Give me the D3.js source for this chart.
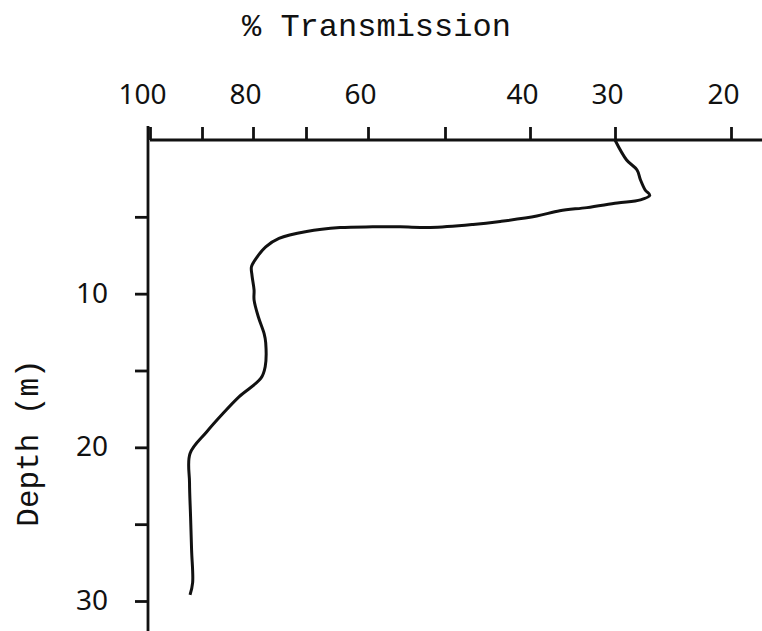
<!DOCTYPE html>
<html>
<head>
<meta charset="utf-8">
<script src="https://cdn.jsdelivr.net/npm/d3@7"></script>
<style>
  html, body { margin: 0; padding: 0; background: #fff; }
  svg { display: block; }
</style>
</head>
<body>
<svg id="chart" width="762" height="631"></svg>
<script>
// depth (m) and % transmission
const depth = [0, 1.3, 1.95, 2.6, 3.25, 3.6, 3.9, 4.1, 4.4, 4.6, 4.95, 5.3, 5.5, 5.7, 5.65, 5.65, 5.7, 5.95, 6.4, 6.95,
    7.6, 8.25, 8.8, 9.75, 10.4, 11.5, 12.6, 13.2, 14.75, 15.5, 16.7, 17.8, 19.0, 20.4, 22.3, 24.5, 26.7, 28.8, 29.6];
const transmission = [30, 29.0, 28.1, 27.8, 27.4, 27.0, 27.8, 29.8, 33.3, 36.5, 39.2, 43.5, 46.7, 51.9, 55.8, 59.4, 64.5, 69.9, 75.1, 77.6,
    79.2, 80.3, 80.2, 79.8, 79.8, 79.0, 77.9, 77.6, 77.7, 78.5, 82.7, 85.9, 89.1, 92.3, 92.4, 92.2, 92.0, 91.8, 92.3];

const xTicks = [100, 90, 80, 70, 60, 50, 40, 30, 20];
const xLabels = [100, 80, 60, 40, 30, 20];
const yTicks = [5, 10, 15, 20, 25, 30];
const yLabels = [10, 20, 30];

const svg = d3.select('#chart');
const W = 762, H = 631;

// hand-drawn axis: spacing between ticks is not uniform
const x = d3.scaleLinear()
    .domain(xTicks)
    .range([150, 202, 253, 306, 368, 445, 530, 615, 731]);

const y = d3.scaleLinear()
    .domain([0, 30])
    .range([140, 601]);

const numFont = '"Noto Sans", sans-serif';
const monoFont = '"Liberation Mono", "DejaVu Sans Mono", monospace';

// top axis
const xAxis = svg.append('g')
    .attr('transform', `translate(0,${y(0)})`)
    .call(d3.axisTop(x)
        .tickValues(xTicks)
        .tickSize(13)
        .tickSizeOuter(0)
        .tickPadding(23)
        .tickFormat(d => xLabels.includes(d) ? d : ''));

xAxis.select('.domain').attr('d', `M${x(100)},0H${W}`);

// left axis
const yAxis = svg.append('g')
    .attr('transform', `translate(${x(100) - 2},0)`)
    .call(d3.axisLeft(y)
        .tickValues(yTicks)
        .tickSize(13)
        .tickSizeOuter(0)
        .tickPadding(27)
        .tickFormat(d => yLabels.includes(d) ? d : ''));

yAxis.select('.domain').attr('d', `M0,${y(0) - 14}V${H}`);

svg.selectAll('.domain, .tick line')
    .attr('stroke', '#111')
    .attr('stroke-width', 2.8);

svg.selectAll('.tick text')
    .attr('font-family', numFont)
    .attr('font-size', 28)
    .attr('fill', '#111');

xAxis.selectAll('.tick text').attr('dx', -8);
yAxis.selectAll('.tick text').attr('dy', '0.3em');

// profile curve
const line = d3.line()
    .x((d, i) => x(transmission[i]))
    .y(d => y(d))
    .curve(d3.curveCatmullRom);

svg.append('path')
    .datum(depth)
    .attr('fill', 'none')
    .attr('stroke', '#111')
    .attr('stroke-width', 3)
    .attr('stroke-linejoin', 'round')
    .attr('d', line);

// titles
svg.append('text')
    .attr('x', 242)
    .attr('y', 36)
    .attr('font-family', monoFont)
    .attr('font-size', 32)
    .attr('fill', '#111')
    .text('% Transmission');

svg.append('text')
    .attr('transform', 'translate(38,443) rotate(-90)')
    .attr('text-anchor', 'middle')
    .attr('font-family', monoFont)
    .attr('font-size', 31)
    .attr('fill', '#111')
    .text('Depth (m)');
</script>
</body>
</html>
